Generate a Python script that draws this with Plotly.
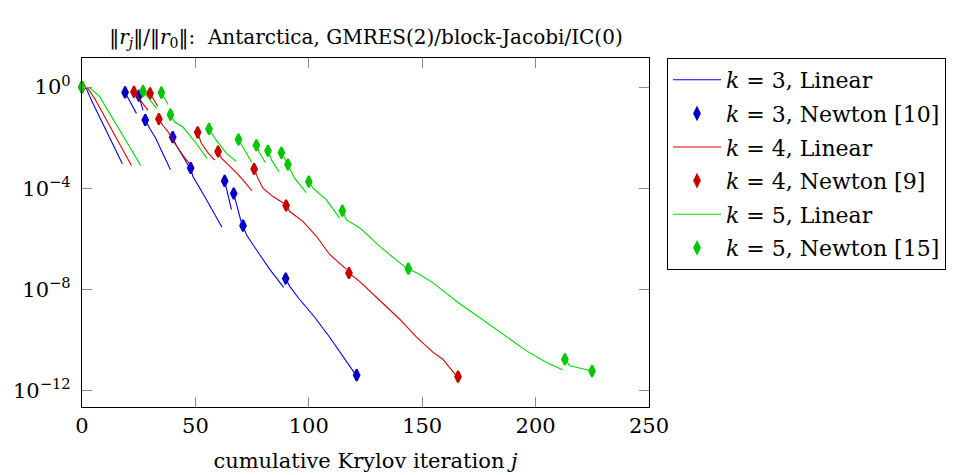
import plotly.graph_objects as go

# ---- data: cumulative Krylov iteration j and log10(||r_j||/||r_0||) ----
# k = 3 : linear-solve segments (one list per Newton step)
K3_LIN_J = [
    [0, 1.9, 4.2, 17.8],
    [19.0, 24.0],
    [25.1, 26.9],
    [27.9, 29.8, 32.5, 39.0],
    [40.0, 41.3, 47.0],
    [47.9, 48.9, 54.1, 57.7, 61.7],
    [62.9, 65.9],
    [66.9, 70.4],
    [71.0, 72.5, 78.3, 82.8, 88.9],
    [89.8, 91.6, 95.6, 102.6, 109.2, 115.8, 120.2],
]
K3_LIN_LOG = [
    [0, -0.06, -0.53, -3.03],
    [-0.21, -1.04],
    [-0.34, -0.92],
    [-1.30, -1.63, -2.02, -3.27],
    [-1.98, -2.26, -3.12],
    [-3.20, -3.54, -4.33, -4.92, -5.54],
    [-3.71, -4.85],
    [-4.21, -5.41],
    [-5.48, -5.84, -6.62, -7.21, -7.92],
    [-7.57, -7.88, -8.36, -9.10, -9.89, -10.76, -11.31],
]
K3_NEWTON_J = [0, 19.0, 25.1, 27.9, 40.0, 47.9, 62.9, 66.9, 71.0, 89.8, 121.1]
K3_NEWTON_LOG = [0, -0.21, -0.34, -1.30, -1.98, -3.20, -3.71, -4.21, -5.48, -7.57, -11.39]

# k = 4
K4_LIN_J = [
    [0, 2.6, 5.6, 21.8],
    [22.9, 29.1],
    [30.0, 33.4],
    [33.9, 35.6, 37.8, 40.9, 44.4, 47.5],
    [51.0, 52.6, 55.4, 58.5],
    [60.0, 61.5, 64.2, 68.3, 71.7, 74.9],
    [75.9, 77.6, 79.8, 84.2, 89.4],
    [90.0, 91.6, 97.4, 103.4, 109.2, 116.6],
    [117.7, 122.5, 130.4, 135.7, 140.1, 147.5, 154.7, 159.1, 164.8],
]
K4_LIN_LOG = [
    [0, -0.06, -0.45, -3.10],
    [-0.19, -0.92],
    [-0.25, -0.76],
    [-1.26, -1.51, -1.75, -2.22, -2.69, -3.04],
    [-1.79, -2.22, -2.58, -2.89],
    [-2.55, -2.81, -3.05, -3.40, -3.75, -4.10],
    [-3.24, -3.61, -4.00, -4.33, -4.62],
    [-4.68, -4.92, -5.31, -5.90, -6.62, -7.21],
    [-7.35, -7.69, -8.36, -8.79, -9.18, -9.89, -10.48, -10.76, -11.39],
]
K4_NEWTON_J = [0, 22.9, 30.0, 33.9, 51.0, 60.0, 75.9, 90.0, 117.7, 165.8]
K4_NEWTON_LOG = [0, -0.19, -0.25, -1.26, -1.79, -2.55, -3.24, -4.68, -7.35, -11.45]

# k = 5
K5_LIN_J = [
    [0, 3.4, 7.8, 11.4, 25.9],
    [26.9, 32.9],
    [35.0, 37.9],
    [39.0, 40.9, 44.5, 50.4, 55.1],
    [56.0, 59.2, 63.7, 68.1],
    [69.0, 71.7, 74.8],
    [76.9, 78.3, 80.9],
    [82.0, 83.6, 86.9],
    [87.9, 90.3],
    [90.8, 93.8, 98.9],
    [100.0, 101.9, 107.8, 113.6],
    [114.8, 116.6, 122.5, 131.3, 140.1, 143.1],
    [143.9, 148.9, 154.8, 165.8, 175.4, 182.8, 196.0, 204.8, 211.9],
    [212.9, 215.1, 224.9],
]
K5_LIN_LOG = [
    [0, -0.03, -0.38, -0.91, -3.10],
    [-0.16, -0.84],
    [-0.22, -0.69],
    [-1.09, -1.38, -1.58, -2.23, -2.82],
    [-1.66, -2.10, -2.62, -2.95],
    [-2.07, -2.49, -2.97],
    [-2.30, -2.61, -2.99],
    [-2.52, -2.89, -3.35],
    [-2.60, -2.97],
    [-3.06, -3.61, -4.17],
    [-3.74, -4.00, -4.46, -5.18],
    [-4.89, -5.25, -5.57, -6.30, -6.95, -7.15],
    [-7.18, -7.41, -7.74, -8.52, -9.12, -9.58, -10.43, -10.89, -11.18],
    [-10.76, -11.02, -11.23],
]
K5_NEWTON_J = [0, 26.9, 35.0, 39.0, 56.0, 69.0, 76.9, 82.0, 87.9, 90.8, 100.0,
               114.8, 143.9, 212.9, 224.9]
K5_NEWTON_LOG = [0, -0.16, -0.22, -1.09, -1.66, -2.07, -2.30, -2.52, -2.60, -3.06,
                 -3.74, -4.89, -7.18, -10.76, -11.23]

SERIES = [
    ("3", "10", K3_LIN_J, K3_LIN_LOG, K3_NEWTON_J, K3_NEWTON_LOG, "#0000ff", "#0000c8"),
    ("4", "9", K4_LIN_J, K4_LIN_LOG, K4_NEWTON_J, K4_NEWTON_LOG, "#dd0000", "#c80000"),
    ("5", "15", K5_LIN_J, K5_LIN_LOG, K5_NEWTON_J, K5_NEWTON_LOG, "#00dd00", "#00c800"),
]

X_TICKS = [0, 50, 100, 150, 200, 250]
Y_TICK_EXP = [0, -4, -8, -12]

FONT = "DejaVu Serif"
FS = 21

fig = go.Figure()
for k, nn, lj, ll, nj, nl, lc, mc in SERIES:
    xs, ys = [], []
    for sj, sl in zip(lj, ll):
        xs += list(sj) + [None]
        ys += [10 ** v for v in sl] + [None]
    fig.add_trace(go.Scatter(
        x=xs, y=ys, mode="lines", connectgaps=False,
        line=dict(color=lc, width=1.1), legendgroup=f"lin{k}",
        name=f"<i>k</i> = {k}, Linear"))
    fig.add_trace(go.Scatter(
        x=nj, y=[10 ** v for v in nl], mode="markers",
        marker=dict(symbol="diamond-tall", size=8, color=mc,
                    line=dict(width=2, color=mc)),
        legendgroup=f"newton{k}",
        name=f"<i>k</i> = {k}, Newton [{nn}]", cliponaxis=False))

fig.update_layout(
    width=954, height=475,
    margin=dict(l=82, r=305, t=58, b=68, autoexpand=False),
    paper_bgcolor="white", plot_bgcolor="white",
    font=dict(family=FONT, size=FS, color="black"),
    title=dict(
        text="‖<i>r<sub>j</sub></i>‖/‖<i>r</i><sub>0</sub>‖:  Antarctica, GMRES(2)/block-Jacobi/IC(0)",
        x=366 / 954, xanchor="center", y=1 - 37 / 475, yanchor="middle",
        font=dict(family=FONT, size=20)),
    showlegend=True,
    legend=dict(
        xref="container", yref="container",
        x=667 / 954, xanchor="left", y=1 - 58 / 475, yanchor="top",
        bordercolor="black", borderwidth=1, bgcolor="white",
        font=dict(family=FONT, size=22), traceorder="grouped",
        tracegroupgap=2, itemwidth=48),
)
fig.update_xaxes(
    range=[0, 250], tickvals=X_TICKS, ticktext=[str(v) for v in X_TICKS],
    ticks="inside", ticklen=10, tickcolor="#8c8c8c", tickwidth=1,
    showline=True, linecolor="black", linewidth=1.2, mirror="ticks",
    showgrid=False, zeroline=False, automargin=False,
    title=dict(text="cumulative Krylov iteration <i>j</i>", standoff=16,
               font=dict(family=FONT, size=FS)),
    tickfont=dict(family=FONT, size=FS),
)
fig.update_yaxes(
    type="log", range=[-12.65, 1.15],
    tickvals=[10 ** e for e in Y_TICK_EXP],
    ticktext=[f"10<sup>{str(e).replace('-', '−')}</sup>" for e in Y_TICK_EXP],
    ticks="inside", ticklen=10, tickcolor="#8c8c8c", tickwidth=1,
    showline=True, linecolor="black", linewidth=1.2, mirror="ticks",
    showgrid=False, zeroline=False, ticklabelstandoff=6, automargin=False,
    tickfont=dict(family=FONT, size=FS),
)

fig.write_html("out.html")
